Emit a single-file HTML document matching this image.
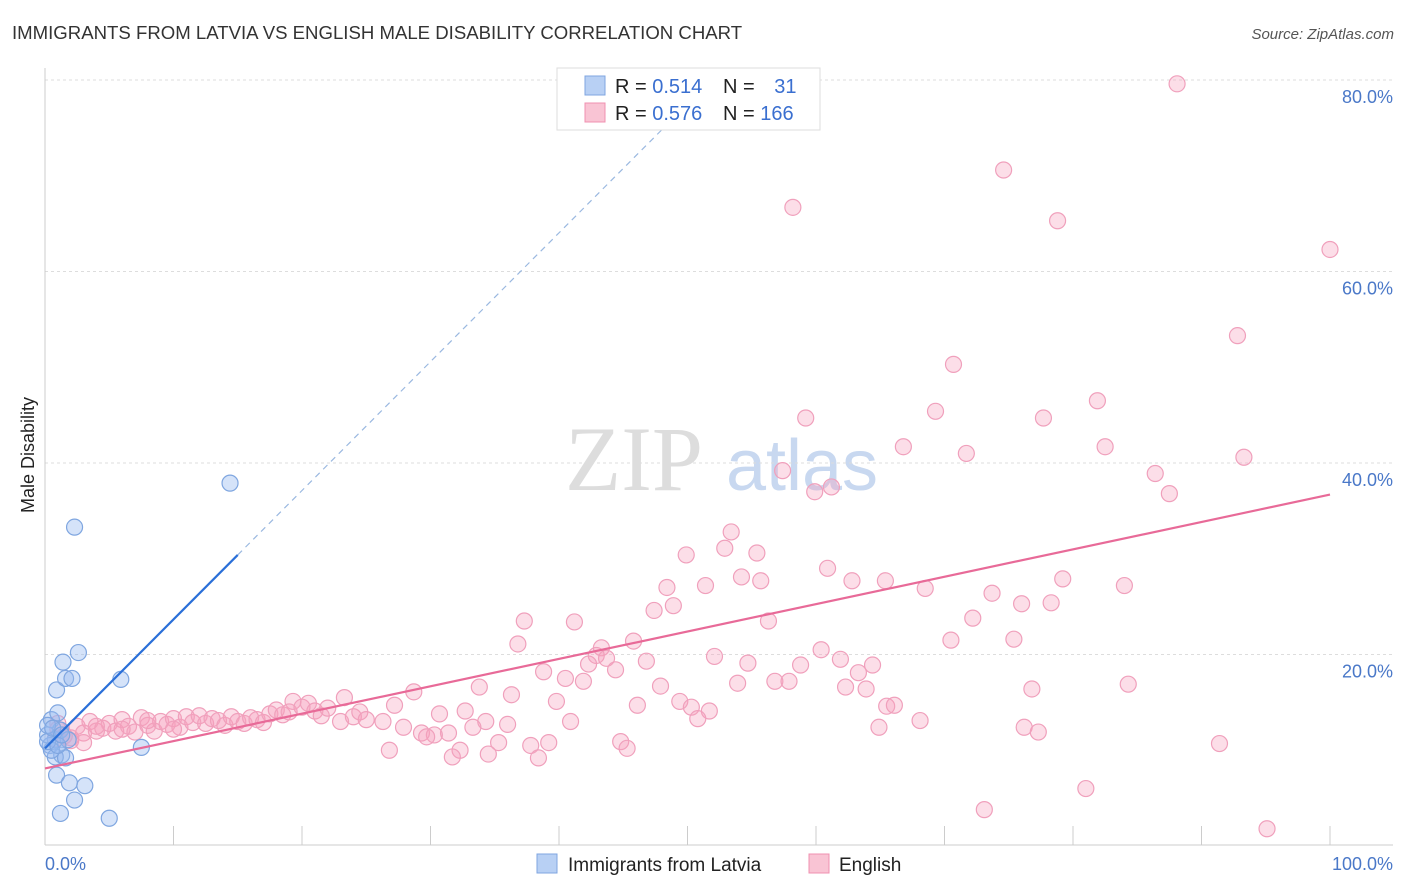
<!DOCTYPE html>
<html><head><meta charset="utf-8"><style>
body{margin:0;background:#fff;font-family:"Liberation Sans",sans-serif;}
svg{display:block}
</style></head><body>
<svg id="chart" width="1406" height="892">
<text x="12" y="39" font-size="18.6" fill="#333">IMMIGRANTS FROM LATVIA VS ENGLISH MALE DISABILITY CORRELATION CHART</text>
<text x="1394" y="39" font-size="15" fill="#555" font-style="italic" text-anchor="end">Source: ZipAtlas.com</text>
<g>
<text x="634" y="490" font-size="92" fill="#ddd" font-family="Liberation Serif,serif" text-anchor="middle">ZIP</text>
<text x="802" y="490" font-size="72" fill="#c8d8f0" text-anchor="middle">atlas</text>
</g>
<g id="grid"></g>
<g id="axes"></g>
<g id="pts"></g>
<g id="trends"></g>
<text transform="translate(34,455) rotate(-90)" font-size="18" fill="#222" text-anchor="middle">Male Disability</text>
<text x="45" y="870" font-size="18" fill="#4a78c8">0.0%</text>
<text x="1393" y="870" font-size="18" fill="#4a78c8" text-anchor="end">100.0%</text>
<g>
<rect x="557" y="68" width="263" height="62" fill="#fff" stroke="#ddd"/>
<rect x="585" y="76" width="20" height="19" fill="#b8d0f4" stroke="#7fa6e0"/>
<rect x="585" y="103" width="20" height="19" fill="#f9c4d4" stroke="#f090b0"/>
<text x="615" y="93" font-size="20" fill="#222">R = <tspan fill="#3a6fd0">0.514</tspan></text>
<text x="723" y="93" font-size="20" fill="#222">N = <tspan fill="#3a6fd0" dx="14">31</tspan></text>
<text x="615" y="120" font-size="20" fill="#222">R = <tspan fill="#3a6fd0">0.576</tspan></text>
<text x="723" y="120" font-size="20" fill="#222">N = <tspan fill="#3a6fd0">166</tspan></text>
</g>
<g>
<rect x="537" y="854" width="20" height="19" fill="#b8d0f4" stroke="#7fa6e0"/>
<text x="568" y="871" font-size="19" fill="#222">Immigrants from Latvia</text>
<rect x="809" y="854" width="20" height="19" fill="#f9c4d4" stroke="#f090b0"/>
<text x="839" y="871" font-size="19" fill="#222">English</text>
</g>
</svg>
<script>
const yTicks=[20,40,60,80];
const xTicks=[0,10,20,30,40,50,60,70,80,90,100];
const blueX=[0.5,0.8,0.4,1.0,1.2,0.2,1.3,0.9,1.4,1.6,2.1,2.6,2.3,14.4,5.9,7.5,0.9,1.9,3.1,2.3,1.2,5.0,0.8,1.6,0.2,0.5,1.8,0.2,0.6,1.0,1.3];
const blueY=[13.2,11.1,10.5,13.9,12.1,11.6,9.5,16.3,19.2,17.5,17.5,20.2,33.3,37.9,17.4,10.3,7.4,6.6,6.3,4.8,3.4,2.9,9.3,9.2,12.6,10.0,11.1,10.9,12.3,10.5,11.6];
const pinkX=[88.1,74.6,58.2,78.8,100,92.8,70.7,59.2,69.3,77.7,81.9,66.8,71.7,82.5,93.3,86.4,87.5,57.4,59.9,61.2,53.4,49.9,52.9,55.4,60.9,54.2,55.7,62.8,65.4,48.4,51.4,79.2,84.0,68.5,48.9,47.4,73.7,76.0,78.3,72.2,37.3,41.2,56.3,36.8,45.8,70.5,75.4,43.3,42.9,43.7,52.1,60.4,61.9,42.3,46.8,54.7,58.8,64.4,38.8,44.4,63.3,40.5,41.9,53.9,56.8,57.9,33.8,47.9,62.3,63.9,76.8,84.3,28.7,36.3,23.3,19.3,39.8,49.4,27.2,46.1,50.3,51.7,65.5,66.1,32.7,30.7,50.8,68.1,34.3,36.0,40.9,76.2,77.3,64.9,31.4,33.3,29.3,27.9,26.3,30.3,29.7,44.8,45.3,37.8,39.2,35.3,32.3,26.8,31.7,34.5,38.4,91.4,81.0,73.1,95.1,
1,1.5,2,2.5,3,3.5,4,4.5,5,5.5,6,6.5,7,7.5,8,8.5,9,9.5,10,10.5,11,11.5,12,12.5,13,13.5,14,14.5,15,15.5,16,16.5,17,17.5,18,18.5,19,20,20.5,21,21.5,22,23,24,24.5,25,1,2,3,0.8,4,6,8,10];
const pinkY=[79.6,70.6,66.7,65.3,62.3,53.3,50.3,44.7,45.4,44.7,46.5,41.7,41.0,41.7,40.6,38.9,36.8,39.2,37.0,37.5,32.8,30.4,31.1,30.6,29.0,28.1,27.7,27.7,27.7,27.0,27.2,27.9,27.2,26.9,25.1,24.6,26.4,25.3,25.4,23.8,23.5,23.4,23.5,21.1,21.4,21.5,21.6,20.7,19.9,19.6,19.8,20.5,19.5,19.0,19.3,19.1,18.9,18.9,18.2,18.4,18.1,17.5,17.2,17.0,17.2,17.2,16.6,16.7,16.6,16.4,16.4,16.9,16.1,15.8,15.5,15.1,15.1,15.1,14.7,14.7,14.5,14.1,14.6,14.7,14.1,13.8,13.3,13.1,13.0,12.7,13.0,12.4,11.9,12.4,11.8,12.4,11.8,12.4,13.0,11.6,11.4,10.9,10.2,10.5,10.8,10.8,10.0,10.0,9.3,9.6,9.2,10.7,6.0,3.8,1.8,
12.2,11.5,11.0,12.5,11.8,13.0,12.0,12.3,12.8,12.0,13.2,12.5,11.9,13.4,12.6,12.0,13.0,12.7,13.3,12.4,13.5,12.9,13.6,12.8,13.3,13.1,12.6,13.5,13.0,12.8,13.4,13.2,12.9,13.8,14.2,13.7,14.0,14.5,14.9,14.1,13.6,14.4,13.0,13.5,14.0,13.2,12.8,11.3,10.8,11.2,12.5,12.2,13.1,12.2];
const blueTrend=[10.2,30.4,74.8];const blueTrendX=[0,15,48];
const pinkTrend=[8.1,36.7];
const NS='http://www.w3.org/2000/svg';
const sx=v=>45+v*12.85, sy=v=>846-v*9.575;
function mk(p,t,a){const e=document.createElementNS(NS,t);for(const k in a)e.setAttribute(k,a[k]);p.appendChild(e);return e;}
const grid=document.getElementById('grid'),axes=document.getElementById('axes'),pts=document.getElementById('pts'),tr=document.getElementById('trends');
yTicks.forEach(t=>{const l=mk(grid,'line',{x1:45,x2:1393,y1:sy(t),y2:sy(t),stroke:'#ddd','stroke-dasharray':'3,3'});


const tx=mk(grid,'text',{x:1393,y:sy(t)+23,'font-size':18,fill:'#4a78c8','text-anchor':'end'});tx.textContent=t.toFixed(1)+'%';

});
const xl=mk(axes,'line',{x1:45,x2:1393,y1:845,y2:845,stroke:'#ccc'});


const yl=mk(axes,'line',{x1:45,x2:45,y1:68,y2:845,stroke:'#ccc'});


xTicks.forEach(t=>{const l=mk(axes,'line',{x1:sx(t),x2:sx(t),y1:826,y2:845,stroke:'#ccc'});

});
pinkX.forEach((x,i)=>{const c=mk(pts,'circle',{cx:sx(x),cy:sy(pinkY[i]),r:8,fill:'rgba(246,160,190,0.35)',stroke:'#f0a0bc','stroke-width':1.2});

});
blueX.forEach((x,i)=>{const c=mk(pts,'circle',{cx:sx(x),cy:sy(blueY[i]),r:8,fill:'rgba(150,185,240,0.4)',stroke:'#7fa6e0','stroke-width':1.2});

});
let b1=mk(tr,'line',{x1:sx(blueTrendX[0]),y1:sy(blueTrend[0]),x2:sx(blueTrendX[1]),y2:sy(blueTrend[1]),stroke:'#2a6fd8','stroke-width':2.2});


let b2=mk(tr,'line',{x1:sx(blueTrendX[1]),y1:sy(blueTrend[1]),x2:sx(blueTrendX[2]),y2:sy(blueTrend[2]),stroke:'#9ab8e0','stroke-width':1.2,'stroke-dasharray':'6,5'});


let p1=mk(tr,'line',{x1:sx(0),y1:sy(pinkTrend[0]),x2:sx(100),y2:sy(pinkTrend[1]),stroke:'#e86a98','stroke-width':2.2});


</script>
</body></html>
